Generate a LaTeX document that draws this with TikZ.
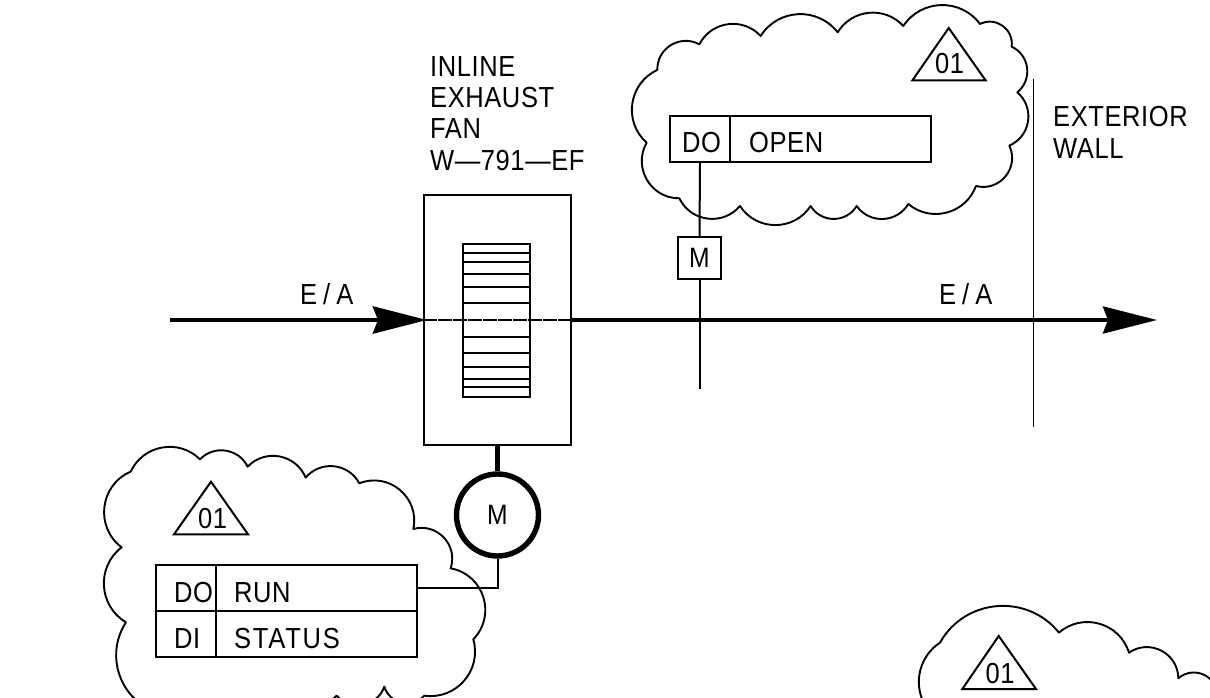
\documentclass[tikz,border=0pt]{standalone}
\usepackage{fontspec}
\setmainfont[FakeStretch=0.88,LetterSpace=2]{Liberation Sans}
\newfontfamily\widecad[FakeStretch=0.88,LetterSpace=6]{Liberation Sans}
\usetikzlibrary{arrows.meta}
\tikzset{
  x=1pt,y=-1pt,
  thinline/.style={line width=2pt,line cap=butt,line join=miter},
  cloudline/.style={line width=1.9pt,line join=round},
  cell/.style={draw,thinline,inner sep=0pt,minimum height=46pt},
  cad/.style={font=\fontsize{29}{31}\selectfont,inner sep=0pt,align=left},
  callout/.style={draw,thinline,inner sep=0pt},
  flowtip/.style={-{Stealth[length=54pt,width=27pt,inset=5pt]},shorten >=-4pt},
  bl/.code={\pgfmathsetmacro\lss{4/3*tan(#1/2)/(2*sin(#1))/0.3915}\pgfkeysalso{bend left=#1,looseness/.expanded=\lss}}
}
\begin{document}
\begin{tikzpicture}
\clip (0,0) rectangle (1210,698);
% clouds
\begin{scope}[shift={(620pt,0pt)},x=0.3333pt,y=-0.3333pt]
\draw[cloudline] (112,210) to[bl=60] (238,133) to[bl=55] (422,108) to[bl=55] (653,97) to[bl=53] (850,78) to[bl=55] (1080,72) to[bl=62] (1175,140) to[bl=58] (1192,277) to[bl=58] (1168,437) to[bl=65] (1068,558) to[bl=55] (865,612) to[bl=57] (710,618) to[bl=59] (572,618) to[bl=57] (360,618) to[bl=57] (178,595) to[bl=60] (80,428) to[bl=57] (112,210);
\end{scope}
\begin{scope}[shift={(90pt,-430pt)},x=0.3333pt,y=-0.3333pt]
\draw[cloudline] (122,125) to[bl=55] (330,88) to[bl=55] (473,110) to[bl=57] (647,143) to[bl=56] (808,160) to[bl=62] (970,297) to[bl=62] (1082,415) to[bl=62] (1150,628) to[bl=57] (1003,797) to[bl=60] (883,770) to[bl=60] (740,797) to[bl=40] (165,830) to[bl=46] (108,577) to[bl=56] (95,352) to[bl=60] (122,125);
\end{scope}
\begin{scope}[shift={(900pt,-590pt)},x=0.3333pt,y=-0.3333pt]
\draw[cloudline] (72,340) to[bl=42] (120,158) to[bl=56] (477,128) to[bl=57] (687,188) to[bl=62] (835,265) to[bl=58] (950,300) to[bl=50] (1100,360);
\end{scope}
% fan
\node[draw,thinline,inner sep=0pt,minimum width=147pt,minimum height=250pt] (fanbox) at (497.5,320) {};
\node[draw,thinline,inner sep=0pt,minimum width=66.5pt,minimum height=153pt] (wheel) at (496.5,320.5) {};
\foreach \yy/\nm in {253.3/a,262/b,273.7/c,287.3/d,303.3/e,337.3/f,353.3/g,367.3/h,379/i,387.3/j}{
  \coordinate (L\nm) at (463,\yy); \coordinate (R\nm) at (529.5,\yy);
  \draw[line width=1.8pt] (L\nm) -- (R\nm);
}
\draw[line width=2.2pt,dash pattern=on 14pt off 1pt] (fanbox.west) -- (fanbox.east);
% flow arrows
\coordinate (inlet) at (170,320);
\coordinate (outlet) at (1157,320);
\draw[line width=4.8pt,flowtip] (inlet) -- (fanbox.west);
\draw[line width=3.6pt,-{Stealth[length=54pt,width=27pt,inset=5pt]}] (fanbox.east) -- (outlet);
% motor
\node[draw,line width=5.4pt,circle,inner sep=0pt,minimum size=82pt,font=\fontsize{28}{30}\selectfont] (motor) at (497.5,515) {M};
\draw[line width=5pt] (fanbox.south -| motor.north) -- (motor.north);
% damper
\node[cell,minimum width=60pt] (docellb) at (700,139) {};
\node[cell,minimum width=201pt] (opencell) at (830.5,139) {};
\node[draw,thinline,inner sep=0pt,minimum width=43pt,minimum height=42pt,font=\fontsize{28}{30}\selectfont] (damper) at (699.5,258) {M};
\coordinate (damperend) at (699.5,389);
\draw[thinline] (docellb.south) -- (damper.north);
\draw[thinline] (damper.south) -- (damperend);
% wall
\coordinate (walltop) at (1033.5,79);
\coordinate (wallbot) at (1033.5,427);
\draw[line width=1.5pt] (walltop) -- (wallbot);
% status table
\node[cell,minimum width=60pt] (docella) at (185.7,588) {};
\node[cell,minimum width=201pt] (runcell) at (316.2,588) {};
\node[cell,minimum width=60pt] (dicell) at (185.7,634) {};
\node[cell,minimum width=201pt] (statcell) at (316.2,634) {};
\draw[thinline] (runcell.east) -| (motor.south);
% triangles
\draw[callout] (948.7,28) -- (985.7,80.5) -- (912.3,80.5) -- cycle;
\draw[callout] (211,481.7) -- (248,534.3) -- (174,534.3) -- cycle;
\draw[callout] (998.7,636) -- (1036,689) -- (962.3,689) -- cycle;
% text
\node[cad,anchor=base] (t1) at (949.5,74) {01};
\node[cad,anchor=base] (t2) at (212.5,528) {01};
\node[cad,anchor=base] (t3) at (1000,683) {01};
\node[cad,anchor=base west] (doa) at (174,602) {DO};
\node[cad,anchor=base west] (dia) at (174,648) {DI};
\node[cad,anchor=base west] (run) at (234,602) {RUN};
\node[cad,anchor=base west] (stat) at (234,648) {\widecad STATUS};
\node[cad,anchor=base west] (dob) at (682,153) {DO};
\node[cad,anchor=base west] (opn) at (749,153) {OPEN};
\node[cad,anchor=base west] (ea1) at (300,304) {E\kern6pt/\kern6pt A};
\node[cad,anchor=base west] (ea2) at (939,304) {E\kern6pt/\kern6pt A};
\node[cad,anchor=base west] (l1) at (430,77) {INLINE};
\node[cad,anchor=base west] (l2) at (430,108) {EXHAUST};
\node[cad,anchor=base west] (l3) at (430,139) {FAN};
\node[cad,anchor=base west] (l4) at (430,170) {W—791—EF};
\node[cad,anchor=base west] (w1) at (1053,127) {EXTERIOR};
\node[cad,anchor=base west] (w2) at (1053,158) {WALL};
\end{tikzpicture}
\end{document}
